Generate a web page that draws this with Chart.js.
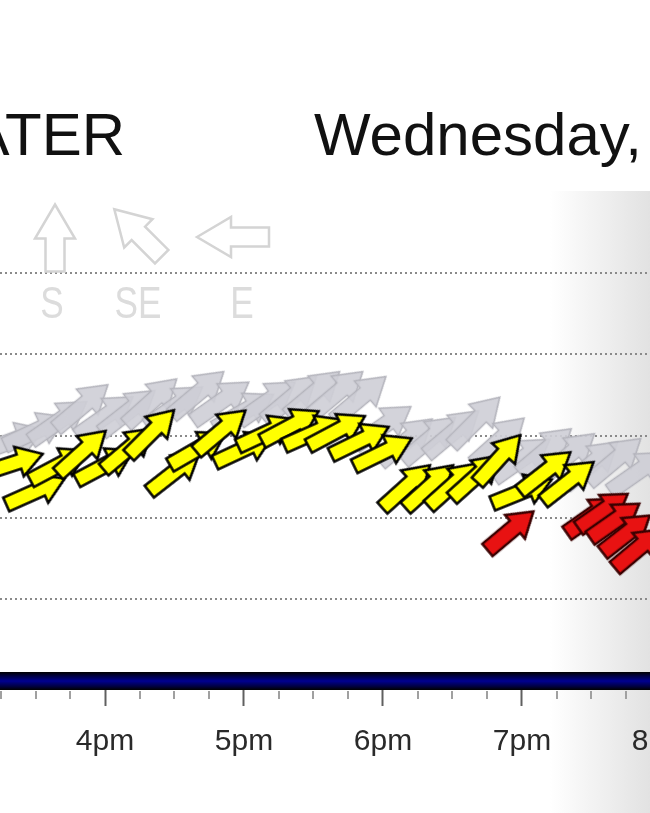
<!DOCTYPE html>
<html>
<head>
<meta charset="utf-8">
<script src="https://cdn.jsdelivr.net/npm/chart.js@4.4.0/dist/chart.umd.min.js"></script>
<style>
  html, body { margin: 0; padding: 0; background: #fff; overflow: hidden; }
  #wrap { position: relative; width: 650px; height: 813px; overflow: hidden; }
  #windChart { position: absolute; left: 0; top: 0; }
  .title { position: absolute; top: 105px; font-family: "Liberation Sans", Arial, sans-serif; font-size: 60px; line-height: 60px; color: #111; white-space: nowrap; }
  #spot { right: 525px; }
  #day { left: 314px; }
</style>
</head>
<body>
<div id="wrap">
  <canvas id="windChart" width="700" height="813"></canvas>
  <div class="title" id="spot">WATER</div>
  <div class="title" id="day">Wednesday,</div>
</div>
<script>
// window of the day on the canvas, in hours (canvas runs a little past the crop)
const xMin = 15.2446;
const xMax = 20.2806;
const visibleWidth = 650;

// forecast (yellow)
const forecastTimes = ['15:20','15:30','15:40','15:50','16:00','16:10','16:20','16:30','16:40','16:50',
                       '17:00','17:10','17:20','17:30','17:40','17:50','18:00','18:10','18:20','18:30',
                       '18:40','18:50','19:00','19:10','19:20'];
const forecastSpeed = [13.3, 11.6, 13.2, 14.0, 13.2, 14.2, 15.2, 12.8, 14.2, 15.3,
                       14.2, 15.2, 15.6, 15.2, 15.3, 14.7, 14.0, 11.9, 11.9, 12.0,
                       12.5, 13.6, 11.6, 12.8, 12.2];
const forecastHeading = [72, 66, 62, 48, 62, 50, 45, 52, 60, 50,
                         65, 65, 62, 66, 62, 64, 64, 48, 48, 48,
                         48, 42, 68, 52, 52];

// gusts (grey)
const gustTimes = ['15:20','15:30','15:40','15:50','16:00','16:10','16:20','16:30','16:40','16:50',
                   '17:00','17:10','17:20','17:30','17:40','17:50','18:00','18:10','18:20','18:30',
                   '18:40','18:50','19:00','19:10','19:20','19:30','19:40','19:50'];
const gustSpeed = [14.7, 15.3, 15.9, 16.8, 16.2, 16.5, 17.1, 16.8, 17.6, 17.1,
                   16.5, 17.1, 17.3, 17.6, 17.6, 17.3, 15.6, 14.7, 14.8, 15.2,
                   15.9, 14.7, 13.6, 14.1, 13.8, 13.3, 13.5, 12.8];
const gustHeading = [70, 65, 55, 50, 55, 52, 48, 55, 50, 55,
                     60, 55, 50, 50, 50, 50, 55, 50, 50, 50,
                     45, 48, 55, 50, 50, 50, 50, 55];

// observed (red)
const observedTimes = ['18:55','19:30','19:35','19:40','19:45','19:50'];
const observedSpeed = [9.2, 10.1, 10.4, 9.8, 9.0, 8.1];
const observedHeading = [50, 55, 55, 55, 52, 50];

const compassLabels = ['S', 'SE', 'E'];
const compassTurn = [0, -45, -90];

function toHours(t) {
    const parts = t.split(':');
    return Number(parts[0]) + Number(parts[1]) / 60;
}

function hourLabel(v) {
    const h = v > 12 ? v - 12 : v;
    return h + (v >= 12 ? 'pm' : 'am');
}

function arrowPath(ctx, len, shaftW, headW, headL) {
    const h = len / 2;
    ctx.beginPath();
    ctx.moveTo(0, -h);
    ctx.lineTo(headW / 2, -h + headL);
    ctx.lineTo(shaftW / 2, -h + headL);
    ctx.lineTo(shaftW / 2, h);
    ctx.lineTo(-shaftW / 2, h);
    ctx.lineTo(-shaftW / 2, -h + headL);
    ctx.lineTo(-headW / 2, -h + headL);
    ctx.closePath();
}

function makeArrow(fill, stroke, lw, len, shaftW, headW, headL) {
    const c = document.createElement('canvas');
    c.width = Math.ceil(headW + lw * 2 + 4);
    c.height = Math.ceil(len + lw * 2 + 4);
    const g = c.getContext('2d');
    g.translate(c.width / 2, c.height / 2);
    arrowPath(g, len, shaftW, headW, headL);
    g.fillStyle = fill;
    g.fill();
    g.lineWidth = lw;
    g.lineJoin = 'miter';
    g.strokeStyle = stroke;
    g.stroke();
    return c;
}

const yellowArrow = makeArrow('#ffff00', '#000000', 2.5, 64, 15, 31, 25);
const greyArrow = makeArrow('rgba(206,206,214,0.9)', '#b4b4bc', 1.5, 68, 16, 34, 27);
const redArrow = makeArrow('#e81212', '#3a0000', 2.5, 60, 16, 31, 24);

function series(times, speeds) {
    return times.map((t, i) => ({ x: toHours(t), y: speeds[i] }));
}

const backdrop = {
    id: 'backdrop',
    beforeDraw(chart) {
        const { ctx, chartArea } = chart;
        const g = ctx.createLinearGradient(visibleWidth - 100, 0, visibleWidth, 0);
        g.addColorStop(0, 'rgba(255,255,255,1)');
        g.addColorStop(1, '#e2e2e2');
        ctx.save();
        ctx.fillStyle = g;
        ctx.fillRect(visibleWidth - 100, chartArea.top, 100, chart.height - chartArea.top);
        ctx.fillStyle = '#e2e2e2';
        ctx.fillRect(visibleWidth, chartArea.top, chart.width - visibleWidth, chart.height - chartArea.top);
        ctx.restore();
    },
    beforeDatasetsDraw(chart) {
        const { ctx, chartArea } = chart;
        const left = chartArea.left;
        const spots = [[55, 238], [138, 233], [233, 237]];
        const textX = [52, 138, 242];
        ctx.save();
        compassLabels.forEach((lab, i) => {
            ctx.save();
            ctx.translate(left + spots[i][0], spots[i][1]);
            ctx.rotate(compassTurn[i] * Math.PI / 180);
            arrowPath(ctx, i === 2 ? 72 : 67, 19, 40, 34);
            ctx.lineWidth = 2.5;
            ctx.strokeStyle = '#d4d4d4';
            ctx.stroke();
            ctx.restore();
            ctx.save();
            ctx.translate(left + textX[i], 318);
            ctx.scale(0.8, 1);
            ctx.fillStyle = '#dcdcdc';
            ctx.font = '44px "Liberation Sans", Arial, sans-serif';
            ctx.textAlign = 'center';
            ctx.textBaseline = 'alphabetic';
            ctx.fillText(lab, 0, 0);
            ctx.restore();
        });
        ctx.restore();
    },
    afterDraw(chart) {
        const { ctx } = chart;
        const xs = chart.scales.x;
        ctx.save();
        ctx.strokeStyle = '#a0a0a0';
        ctx.lineWidth = 2;
        xs.ticks.forEach(t => {
            if (Number.isInteger(t.value)) return;
            const px = Math.round(xs.getPixelForValue(t.value));
            ctx.beginPath();
            ctx.moveTo(px, xs.top + 10);
            ctx.lineTo(px, xs.top + 18);
            ctx.stroke();
        });
        ctx.restore();
    }
};

new Chart(document.getElementById('windChart'), {
    type: 'scatter',
    data: {
        datasets: [
            {
                label: 'Observed',
                data: series(observedTimes, observedSpeed),
                pointStyle: redArrow,
                rotation: c => observedHeading[c.dataIndex],
                pointRadius: 10,
                clip: false
            },
            {
                label: 'Forecast',
                data: series(forecastTimes, forecastSpeed),
                pointStyle: yellowArrow,
                rotation: c => forecastHeading[c.dataIndex],
                pointRadius: 10,
                clip: false
            },
            {
                label: 'Gust',
                data: series(gustTimes, gustSpeed),
                pointStyle: greyArrow,
                rotation: c => gustHeading[c.dataIndex],
                pointRadius: 10,
                clip: false
            }
        ]
    },
    options: {
        responsive: false,
        animation: false,
        events: [],
        layout: { autoPadding: false, padding: { top: 191, left: 0, right: 0, bottom: 0 } },
        plugins: { legend: { display: false }, tooltip: { enabled: false }, title: { display: false } },
        scales: {
            x: {
                type: 'linear',
                min: xMin,
                max: xMax,
                afterFit: s => { s.height = 132; s.paddingLeft = 0; s.paddingRight = 0; },
                grid: {
                    drawOnChartArea: false,
                    tickLength: 25,
                    tickWidth: 2,
                    tickColor: c => Number.isInteger(c.tick && c.tick.value) ? '#606060' : 'rgba(0,0,0,0)'
                },
                border: {
                    display: true,
                    width: 18,
                    color: c => {
                        const ch = c.chart;
                        if (!ch.chartArea) return '#000080';
                        const y = ch.chartArea.bottom;
                        const g = ch.ctx.createLinearGradient(0, y - 9, 0, y + 9);
                        g.addColorStop(0, '#000000');
                        g.addColorStop(0.2, '#00003c');
                        g.addColorStop(0.5, '#000090');
                        g.addColorStop(0.8, '#000040');
                        g.addColorStop(1, '#000000');
                        return g;
                    }
                },
                ticks: {
                    stepSize: 0.25,
                    includeBounds: false,
                    autoSkip: false,
                    maxRotation: 0,
                    padding: 18,
                    color: '#2a2a2a',
                    font: { family: '"Liberation Sans", Arial, sans-serif', size: 30 },
                    callback: v => Number.isInteger(v) ? hourLabel(v) : ''
                }
            },
            y: {
                min: 0,
                max: 30,
                afterFit: s => { s.width = 0; s.paddingTop = 0; s.paddingBottom = 0; },
                ticks: { display: false, stepSize: 5 },
                border: { display: false, dash: [2, 3] },
                grid: {
                    drawTicks: false,
                    lineWidth: 2,
                    color: c => (c.tick.value === 0 || c.tick.value === 30) ? 'rgba(0,0,0,0)' : '#8a8a8a'
                }
            }
        }
    },
    plugins: [backdrop]
});
</script>
</body>
</html>
